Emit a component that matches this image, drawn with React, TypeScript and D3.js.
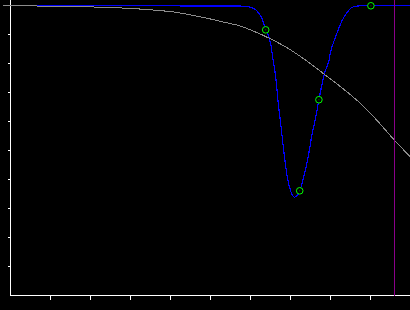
import React from "react";
import * as d3 from "d3";

const W = 410;
const H = 310;

// Low-pass response (gray)
const lpFreq = [-0.2, 0.3, 0.65, 2.1, 2.775, 3.225, 3.55, 3.85, 4.075, 4.25, 4.45, 4.625, 4.95, 5.25, 5.55, 5.7, 6.0, 6.5, 7.0, 7.25, 7.825, 8.25, 8.75, 9.08, 9.61, 10.0];
const lpGain = [0, 0, -0.017, -0.052, -0.086, -0.121, -0.155, -0.19, -0.224, -0.259, -0.31, -0.36, -0.45, -0.55, -0.64, -0.69, -0.84, -1.15, -1.53, -1.76, -2.35, -2.8, -3.38, -3.84, -4.66, -5.23];

// Notch response (blue)
const notchFreq = [0.65, 5.75, 6.0, 6.125, 6.21, 6.29, 6.35, 6.4, 6.46, 6.52, 6.56, 6.625, 6.7, 6.76, 6.83, 6.92, 7.0, 7.1, 7.23, 7.33, 7.47, 7.54, 7.625, 7.71, 7.86, 7.96, 8.0, 8.125, 8.29, 8.42, 8.54, 8.75, 10.0];
const notchGain = [0, -0.02, -0.06, -0.14, -0.27, -0.46, -0.69, -0.86, -1.09, -1.44, -1.84, -2.41, -3.45, -4.14, -5.0, -5.92, -6.38, -6.61, -6.39, -5.92, -5.0, -4.42, -3.9, -3.25, -2.3, -1.9, -1.62, -1.09, -0.52, -0.23, -0.06, -0.01, 0];

// Control points (green circles)
const ctrlFreq = [6.38, 7.23, 7.71, 9.01];
const ctrlGain = [-0.84, -6.39, -3.25, -0.01];

// Marker (purple)
const markerFreq = 9.6;

const xTicks = [1, 2, 3, 4, 5, 6, 7, 8, 9];
const yTicks = [-1, -2, -3, -4, -5, -6, -7, -8, -9];

export default function App() {
  const x = d3.scaleLinear().domain([0, 10]).range([10.5, 410.5]);
  const y = d3.scaleLinear().domain([-10, 0]).range([295.5, 5.5]);

  const lpLine = d3
    .line<[number, number]>()
    .x((d) => x(d[0]))
    .y((d) => y(d[1]))
    .curve(d3.curveMonotoneX);

  const notchLine = d3
    .line<[number, number]>()
    .x((d) => x(d[0]))
    .y((d) => y(d[1]))
    .curve(d3.curveMonotoneX);

  const lp = lpFreq.map((f, i) => [f, lpGain[i]] as [number, number]);
  const notch = notchFreq.map((f, i) => [f, notchGain[i]] as [number, number]);

  return (
    <svg
      width={W}
      height={H}
      style={{ position: "fixed", left: 0, top: 0, background: "#000", display: "block" }}
    >
      <rect x={0} y={0} width={W} height={H} fill="#000" />
      {/* axes */}
      <line x1={x(0)} y1={0} x2={x(0)} y2={y(-10)} stroke="#fff" strokeWidth={1} shapeRendering="crispEdges" />
      <line x1={x(0)} y1={y(-10)} x2={W} y2={y(-10)} stroke="#fff" strokeWidth={1} shapeRendering="crispEdges" />
      {yTicks.map((t) => (
        <line key={"y" + t} x1={x(0) - 3} x2={x(0)} y1={y(t)} y2={y(t)} stroke="#fff" strokeWidth={1} shapeRendering="crispEdges" />
      ))}
      {xTicks.map((t) => (
        <line key={"x" + t} x1={x(t)} x2={x(t)} y1={y(-10)} y2={y(-10) + 4} stroke="#fff" strokeWidth={1} shapeRendering="crispEdges" />
      ))}
      {/* notch curve */}
      <path d={notchLine(notch) || ""} fill="none" stroke="#0000ff" strokeWidth={1.2} shapeRendering="crispEdges" />
      {/* low-pass curve */}
      <path d={lpLine(lp) || ""} fill="none" stroke="#8c8c8c" strokeWidth={1} shapeRendering="crispEdges" />
      {/* marker */}
      <line x1={x(markerFreq)} x2={x(markerFreq)} y1={0} y2={y(-10)} stroke="#8a008a" strokeWidth={1} shapeRendering="crispEdges" />
      {/* control points */}
      {ctrlFreq.map((f, i) => (
        <g key={"c" + i}>
          <circle cx={x(f)} cy={y(ctrlGain[i])} r={3.3} fill="#000" stroke="#00ff00" strokeWidth={1} />
          <rect x={x(f) - 0.5} y={y(ctrlGain[i]) - 0.5} width={1} height={1} fill="#0a6a0a" />
        </g>
      ))}
    </svg>
  );
}
